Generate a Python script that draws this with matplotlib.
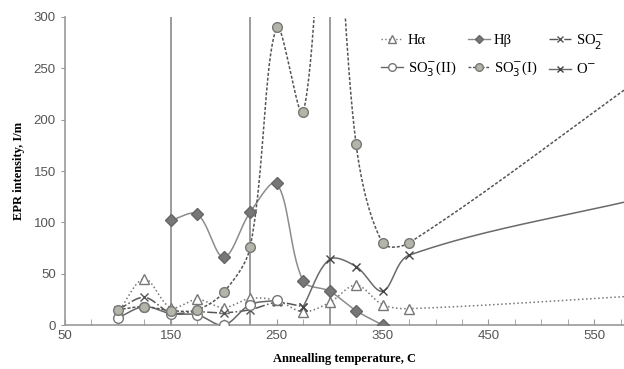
import numpy as np
import matplotlib.pyplot as plt

# annealing temperatures (C) and EPR intensities
t_ha = [100, 125, 150, 175, 200, 225, 250, 275, 300, 325, 350, 375, 600]
ha = [12, 45, 17, 25, 17, 26, 24, 13, 22, 39, 20, 16, 29]

t_hb = [150, 175, 200, 225, 250, 275, 300, 325, 350]
hb = [102, 108, 66, 110, 138, 43, 33, 14, 0]

t_so2 = [100, 125, 150, 175, 200, 225, 250, 275]
so2 = [15, 27, 12, 13, 12, 15, 22, 18]

t_so3_2 = [100, 125, 150, 175, 200, 225, 250]
so3_2 = [7, 18, 11, 10, 0, 20, 24]

t_so3_1 = [100, 125, 150, 175, 200, 225, 250, 275, 300, 325, 350, 375, 600]
so3_1 = [15, 18, 14, 15, 32, 76, 290, 207, 480, 176, 80, 80, 245]

t_o = [275, 300, 325, 350, 375, 600]
o_ = [18, 64, 57, 33, 68, 125]

vlines = [150, 225, 300]


def smooth(x, y, n=40):
    # smoothed line through the points (hermite, tangents scaled per segment)
    P = np.column_stack([np.asarray(x, float), np.asarray(y, float)])
    m = len(P)
    d = np.hypot(*(P[1:] - P[:-1]).T)
    xs, ys = [], []
    s = np.linspace(0, 1, n)[:, None]
    for i in range(m - 1):
        if i == 0:
            t0 = P[1] - P[0]
        else:
            t0 = (P[i + 1] - P[i - 1]) * d[i] / (d[i - 1] + d[i])
        if i == m - 2:
            t1 = P[i + 1] - P[i]
        else:
            t1 = (P[i + 2] - P[i]) * d[i] / (d[i] + d[i + 1])
        h00 = 2 * s ** 3 - 3 * s ** 2 + 1
        h10 = s ** 3 - 2 * s ** 2 + s
        h01 = -2 * s ** 3 + 3 * s ** 2
        h11 = s ** 3 - s ** 2
        seg = h00 * P[i] + h10 * t0 + h01 * P[i + 1] + h11 * t1
        xs.extend(seg[:, 0])
        ys.extend(seg[:, 1])
    return xs, ys


plt.rcParams['font.family'] = ['Liberation Serif', 'DejaVu Serif']

fig = plt.figure(figsize=(6.24, 3.69), dpi=100)
ax = fig.add_axes([0.104, 0.119, 0.896, 0.835])

for v in vlines:
    ax.plot([v, v], [0, 300], color='#8a8a8a', lw=1.2, zorder=1)

series = [
    (t_ha, ha, 'H\u03b1', dict(ls=':', color='#777777', marker='^', mfc='white', mec='#777777', ms=7)),
    (t_hb, hb, 'H\u03b2', dict(ls='-', color='#8c8c8c', marker='D', mfc='#777777', mec='#666666', ms=6)),
    (t_so2, so2, 'SO$_2^{-}$', dict(ls='-.', color='#555555', marker='x', mfc='none', mec='#555555', ms=6)),
    (t_so3_2, so3_2, 'SO$_3^{-}$(II)', dict(ls='-', color='#666666', marker='o', mfc='white', mec='#777777', ms=7)),
    (t_so3_1, so3_1, 'SO$_3^{-}$(I)', dict(ls=(0, (2, 1.2)), color='#555555', marker='o', mfc='#b3b5a8', mec='#777777', ms=7)),
    (t_o, o_, 'O$^{-}$', dict(ls='-', color='#6a6a6a', marker='x', mfc='none', mec='#444444', ms=6)),
]

handles = {}
for x, y, lab, st in series:
    xs, ys = smooth(x, y)
    ax.plot(xs, ys, ls=st['ls'], color=st['color'], lw=1.1, zorder=2)
    ax.plot(x, y, ls='none', marker=st['marker'], mfc=st['mfc'], mec=st['mec'],
            ms=st['ms'], zorder=3)
    h, = ax.plot([], [], ls=st['ls'], color=st['color'], lw=1.0, marker=st['marker'],
                 mfc=st['mfc'], mec=st['mec'], ms=st['ms'] - 1.5, label=lab)
    handles[lab] = h

ax.set_xlim(50, 578)
ax.set_ylim(0, 300)
ax.set_xticks(np.arange(50, 578, 100))
ax.set_xticks(np.arange(50, 578, 25), minor=True)
ax.set_yticks(np.arange(0, 301, 50))
ax.tick_params(axis='x', which='both', direction='in', color='#999999', length=4)
ax.tick_params(axis='y', direction='out', color='#999999', length=3)
ax.tick_params(labelsize=9.5, labelcolor='#555555')
for lbl in ax.get_xticklabels() + ax.get_yticklabels():
    lbl.set_family(['Liberation Sans', 'DejaVu Sans'])

for s in ['top', 'right']:
    ax.spines[s].set_visible(False)
for s in ['left', 'bottom']:
    ax.spines[s].set_color('#999999')
    ax.spines[s].set_linewidth(1.2)

ax.set_xlabel('Annealling temperature, C', fontsize=9, fontweight='bold', labelpad=8)
ax.set_ylabel('EPR intensity, I/m', fontsize=9, fontweight='bold', labelpad=6)

# legend fills column-wise: order so rows read Ha Hb SO2 / SO3(II) SO3(I) O
order = ['H\u03b1', 'SO$_3^{-}$(II)', 'H\u03b2', 'SO$_3^{-}$(I)', 'SO$_2^{-}$', 'O$^{-}$']
fig.legend([handles[k] for k in order], order, loc='upper left',
           bbox_to_anchor=(0.59, 0.95), ncol=3, frameon=False,
           fontsize=10.5, handlelength=1.5, handletextpad=0.3, columnspacing=0.8,
           labelspacing=0.85)

fig.savefig('out.png', dpi=100)
